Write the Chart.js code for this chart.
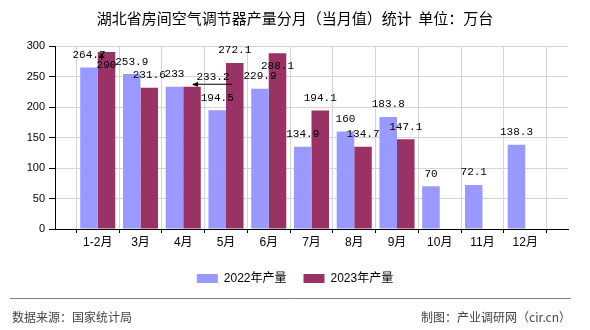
<!DOCTYPE html>
<html>
<head>
<meta charset="utf-8">
<script src="https://cdn.jsdelivr.net/npm/chart.js@4"></script>
<style>
  body { margin: 0; background: #fff; }
  canvas { display: block; }
</style>
</head>
<body>
<canvas id="chart" width="590" height="330"></canvas>
<script>
// Data
const months = ['1-2月', '3月', '4月', '5月', '6月', '7月', '8月', '9月', '10月', '11月', '12月'];
const output2022 = [264.7, 253.9, 233, 194.5, 229.9, 134.9, 160, 183.8, 70, 72.1, 138.3];
const output2023 = [290, 231.6, 233.2, 272.1, 288.1, 194.1, 134.7, 147.1, null, null, null];
const yTicks = [0, 50, 100, 150, 200, 250, 300];

const titleText = '湖北省房间空气调节器产量分月（当月值）统计  单位：万台';
const sourceText = '数据来源：国家统计局';
const makerText = '制图：产业调研网（cir.cn）';

// empty slot at each end, categories sit on the grid lines
const labels = [''].concat(months, ['']);
const pad = arr => [null].concat(arr, [null]);

// value labels above bars
const valueLabels = {
  id: 'valueLabels',
  afterDatasetsDraw(chart) {
    const ctx = chart.ctx;
    const top = chart.chartArea.top;
    ctx.save();
    ctx.font = '11px "Liberation Mono", "DejaVu Sans Mono", monospace';
    ctx.fillStyle = '#000';
    ctx.strokeStyle = '#000';
    ctx.lineWidth = 1;
    ctx.textAlign = 'center';
    ctx.textBaseline = 'middle';
    chart.data.datasets.forEach((ds, di) => {
      chart.getDatasetMeta(di).data.forEach((bar, i) => {
        const v = ds.data[i];
        if (v === null || v === undefined) return;
        let x = bar.x;
        let y = bar.y - 12.5;
        // no room above the plot: put it just under the bar top
        if (y < top) y = bar.y + 13;
        // 4月 2023 label pushed right to clear its neighbour, with a leader line
        if (di === 1 && months[i - 1] === '4月') {
          x += 21;
          y += 3;
          ctx.beginPath();
          ctx.moveTo(bar.x + 1, bar.y - 2.5);
          ctx.lineTo(x + 19, bar.y - 2.5);
          ctx.stroke();
          ctx.beginPath();
          ctx.moveTo(bar.x, bar.y - 2);
          ctx.lineTo(bar.x + 6, bar.y - 5);
          ctx.lineTo(bar.x + 6, bar.y);
          ctx.closePath();
          ctx.fill();
        }
        if (di === 1 && months[i - 1] === '1-2月') {
          // small arrow pointing up to the bar top
          ctx.beginPath();
          ctx.moveTo(x - 5, bar.y + 3);
          ctx.lineTo(x - 5, y - 5);
          ctx.stroke();
          ctx.beginPath();
          ctx.moveTo(x - 5, bar.y + 1);
          ctx.lineTo(x - 8, bar.y + 6);
          ctx.lineTo(x - 2, bar.y + 6);
          ctx.closePath();
          ctx.fill();
        }
        ctx.fillText(String(v), x, y);
      });
    });
    ctx.restore();
  }
};

// title, legend, footer
const decorations = {
  id: 'decorations',
  afterDraw(chart) {
    const ctx = chart.ctx;
    ctx.save();
    ctx.fillStyle = '#000';
    ctx.textAlign = 'center';
    ctx.textBaseline = 'middle';
    ctx.font = '15px "Noto Sans CJK SC", sans-serif';
    ctx.fillText(titleText, 295, 18);

    // legend
    ctx.font = '12px "Liberation Sans", "Noto Sans CJK SC", sans-serif';
    const items = chart.data.datasets.map(ds => ({
      label: ds.label, color: ds.backgroundColor, w: 21 + 6 + ctx.measureText(ds.label).width
    }));
    const gap = 17;
    const total = items.reduce((s, it) => s + it.w, 0) + gap * (items.length - 1);
    let lx = 295 - total / 2;
    ctx.textAlign = 'left';
    items.forEach(it => {
      ctx.fillStyle = it.color;
      ctx.fillRect(lx, 274, 21, 9);
      ctx.fillStyle = '#000';
      ctx.fillText(it.label, lx + 27, 279);
      lx += it.w + gap;
    });

    // footer
    ctx.strokeStyle = '#808080';
    ctx.lineWidth = 1;
    ctx.beginPath();
    ctx.moveTo(10, 298.5);
    ctx.lineTo(571, 298.5);
    ctx.stroke();
    ctx.fillStyle = '#444';
    ctx.font = '12px "Noto Sans CJK SC", sans-serif';
    ctx.textAlign = 'left';
    ctx.fillText(sourceText, 12, 317);
    ctx.textAlign = 'right';
    ctx.fillText(makerText, 571, 317);
    ctx.restore();
  }
};

new Chart(document.getElementById('chart'), {
  type: 'bar',
  data: {
    labels: labels,
    datasets: [
      { label: '2022年产量', data: pad(output2022), backgroundColor: '#9999ff' },
      { label: '2023年产量', data: pad(output2023), backgroundColor: '#993366' }
    ]
  },
  options: {
    responsive: false,
    animation: false,
    layout: { padding: { top: 46, left: 0, right: 22, bottom: 76 } },
    datasets: { bar: { categoryPercentage: 0.82, barPercentage: 1 } },
    plugins: {
      legend: { display: false },
      title: { display: false },
      tooltip: { enabled: false }
    },
    scales: {
      x: {
        offset: false,
        grid: { color: '#d4d4d4', tickColor: '#000', tickLength: 4 },
        border: { color: '#000' },
        ticks: {
          autoSkip: false, maxRotation: 0, padding: 2, color: '#000',
          font: { size: 12, family: '"Liberation Sans", "Noto Sans CJK SC", sans-serif' }
        },
        afterFit: scale => { scale.height = 25; }
      },
      y: {
        min: 0,
        max: 300,
        afterBuildTicks: scale => { scale.ticks = yTicks.map(v => ({ value: v })); },
        grid: { color: '#d4d4d4', tickColor: '#000', tickLength: 6 },
        border: { color: '#000' },
        ticks: {
          padding: 4, color: '#000',
          font: { size: 11, family: '"Liberation Sans", sans-serif' }
        },
        afterFit: scale => { scale.width = 55; }
      }
    }
  },
  plugins: [valueLabels, decorations]
});
</script>
</body>
</html>
